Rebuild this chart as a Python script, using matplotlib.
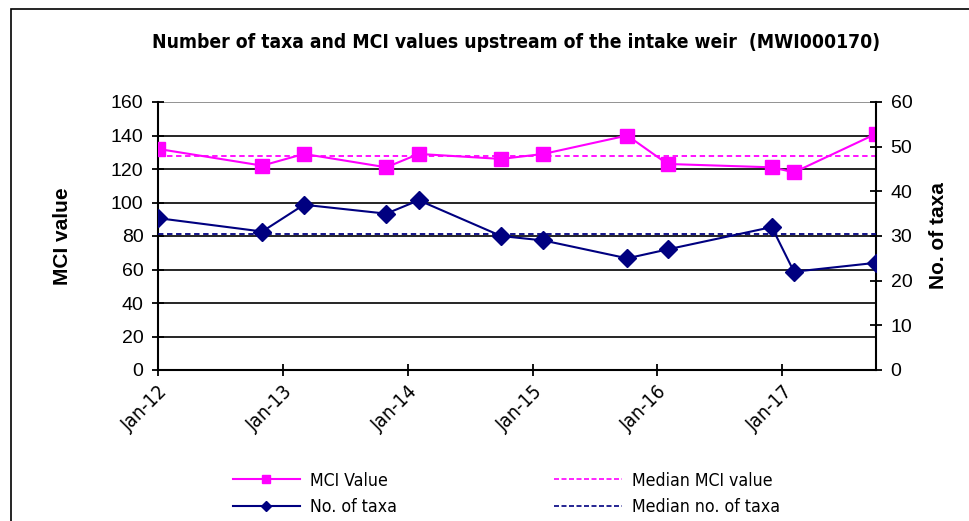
import datetime as dt

import matplotlib
matplotlib.use("Agg")
import matplotlib.pyplot as plt
import matplotlib.dates as mdates
from matplotlib.lines import Line2D
from matplotlib.patches import Rectangle
from matplotlib.font_manager import FontProperties

# Sampling dates and values
dates = [
    dt.date(2012, 1, 1), dt.date(2012, 11, 1), dt.date(2013, 3, 3),
    dt.date(2013, 10, 30), dt.date(2014, 2, 2), dt.date(2014, 10, 1),
    dt.date(2015, 2, 2), dt.date(2015, 10, 5), dt.date(2016, 1, 31),
    dt.date(2016, 12, 1), dt.date(2017, 2, 4), dt.date(2017, 10, 2),
]
mci = [132, 122, 129, 121, 129, 126, 129, 140, 123, 121, 118, 141]
taxa = [34, 31, 37, 35, 38, 30, 29, 25, 27, 32, 22, 24]
median_mci = 127.5
median_taxa = 30.5

MAGENTA = "#FF00FF"
NAVY = "#000080"


def narrow(size, weight="normal"):
    return FontProperties(family="DejaVu Sans", stretch="condensed", size=size, weight=weight)


plt.rcParams["font.family"] = ["Liberation Sans", "DejaVu Sans"]

fig = plt.figure(figsize=(9.7, 5.21), dpi=100)
fig.patches.append(Rectangle((11 / 970, -0.1), 1.2, 1 - 9 / 521 + 0.1,
                             transform=fig.transFigure, fill=False,
                             edgecolor="black", lw=1.2))

ax = fig.add_axes([158 / 970, 1 - 370 / 521, (876 - 158) / 970, (370 - 102) / 521])
ax2 = ax.twinx()

for y in range(20, 161, 20):
    ax.axhline(y, color="black" if y < 160 else "#808080", lw=1.2, zorder=1)

ax.plot(dates, mci, color=MAGENTA, lw=1.5, marker="s", ms=10, zorder=4)
ax.axhline(median_mci, color=MAGENTA, lw=1.3, ls=(0, (3, 2)), zorder=3)
ax2.plot(dates, taxa, color=NAVY, lw=1.5, marker="D", ms=9, zorder=4)
ax2.axhline(median_taxa, color=NAVY, lw=1.3, ls=(0, (3, 2)), zorder=3)

ax.set_xlim(dates[0], dates[-1])
ax.set_ylim(0, 160)
ax2.set_ylim(0, 60)
ax.set_yticks(range(0, 161, 20))
ax2.set_yticks(range(0, 61, 10))
ax.xaxis.set_major_locator(mdates.YearLocator(month=1, day=1))
ax.xaxis.set_major_formatter(mdates.DateFormatter("%b-%y"))

for a in (ax, ax2):
    a.spines["top"].set_visible(False)
    for s in a.spines.values():
        s.set_linewidth(1.5)
ax.spines["right"].set_visible(False)
ax2.spines["left"].set_visible(False)
ax2.spines["bottom"].set_visible(False)

ax.tick_params(axis="y", direction="inout", length=9, width=1.3, labelsize=14, pad=6)
ax.tick_params(axis="x", direction="inout", length=9, width=1.3, pad=4)
ax2.tick_params(axis="y", direction="inout", length=9, width=1.3, labelsize=14, pad=6)
for lbl in ax.get_xticklabels():
    lbl.set_rotation(45)
    lbl.set_ha("right")
    lbl.set_va("top")
    lbl.set_rotation_mode("anchor")
    lbl.set_fontproperties(narrow(14))

ax.set_ylabel("MCI value", fontsize=15, fontweight="bold", labelpad=28)
ax2.set_ylabel("No. of taxa", fontsize=15, fontweight="bold", labelpad=12)

fig.text(0.532, 1 - 42 / 521, "Number of taxa and MCI values upstream of the intake weir  (MWI000170)",
         ha="center", va="center", fontproperties=narrow(13.9, "bold"))

handles = [
    Line2D([], [], color=MAGENTA, lw=1.5, marker="s", ms=6),
    Line2D([], [], color=NAVY, lw=1.5, marker="D", ms=5),
    Line2D([], [], color=MAGENTA, lw=1.2, ls=(0, (3, 1.5))),
    Line2D([], [], color=NAVY, lw=1.2, ls=(0, (3, 1.5))),
]
labels = ["MCI Value", "No. of taxa", "Median MCI value", "Median no. of taxa"]
fig.legend(handles, labels, ncol=2, loc="center left", bbox_to_anchor=(217 / 970, 1 - 494 / 521),
           frameon=False, prop=narrow(12.7), handlelength=3.8,
           columnspacing=8.9, labelspacing=0.5, handletextpad=0.6)

fig.savefig("out.png", dpi=100)
